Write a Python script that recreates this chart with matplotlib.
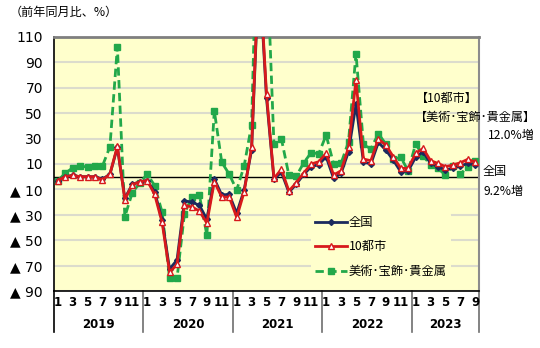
import numpy as np
import matplotlib
matplotlib.use('Agg')
import matplotlib.pyplot as plt
from matplotlib.lines import Line2D
import matplotlib.transforms as mtransforms

plt.rcParams['font.family'] = ['Noto Sans CJK JP', 'DejaVu Sans']

years = ['2019', '2020', '2021', '2022', '2023']
month_nums = list(range(1, 13)) * 4 + list(range(1, 10))

zenkoku = [-3, 0, 1, 0, 0, 0, -2, 2, 23, -17, -6, -4,
           -3, -12, -34, -72.7, -65.6, -19, -20, -22.5, -33.5, -1.8, -14.4, -13.9,
           -28.8, -10.5, 21, 165, 62, -2, 3.5, -12.3, -5.8, 1.9, 7.9, 9.5,
           15.7, -1.3, 2.6, 19.7, 57, 11.6, 10, 27, 21, 13.1, 3.9, 4.5,
           15.3, 19.7, 10.5, 7.9, 5.3, 6.6, 8.4, 10.5, 9.2]
toshi10 = [-3, 0, 1, 0, 0, 0, -2.6, 2, 24, -18, -6.3, -4,
           -3, -14, -36, -75.3, -69, -22.5, -23.8, -27, -36.5, -3.9, -16, -16,
           -32, -12, 23, 170, 65, -1.3, 5.8, -11.3, -4.7, 3, 10, 11.8,
           18.4, 1.3, 4.7, 23, 76, 13.9, 12.6, 29.7, 25, 15.7, 6.6, 6.6,
           18.4, 22.3, 12.6, 10.5, 7.9, 9.2, 11, 13.7, 11.5]
bijutsu = [-3, 2.6, 7, 8.7, 7.4, 8.5, 8.5, 23.6, 102.4, -31.5, -12.6, -5,
           2, -7, -28, -80, -80, -29, -16, -14.4, -46, 52, 11.3, 2,
           -10.5, 8.4, 41, 260, 180, 25.5, 29.7, 1.3, 0.5, 11, 19, 18,
           32.8, 10, 10.5, 27.6, 97, 25.5, 21.8, 34, 25.7, 13.7, 15.3, 4.7,
           25.7, 16.5, 9.2, 6.6, 1.3, 8.4, 2, 7.9, 12.0]

ytick_vals = [110, 90, 70, 50, 30, 10, -10, -30, -50, -70, -90]
ytick_labels = ['110', '90', '70', '50', '30', '10',
                '▲ 10', '▲ 30', '▲ 50', '▲ 70', '▲ 90']

W, H = 540, 348
fig = plt.figure(figsize=(W / 100, H / 100), dpi=100)
L, R, T, B = 54, 479, 37, 291
ax = fig.add_axes([L / W, 1 - B / H, (R - L) / W, (B - T) / H])
ax.set_facecolor('#FFFFCC')

x = np.arange(len(month_nums))
ax.set_xlim(-0.5, len(month_nums) - 0.5)
ax.set_ylim(-90, 110)

for v in ytick_vals[1:]:
    ax.axhline(v, color='#DCDCCC', lw=1.5, zorder=1)
ax.axhline(0, color='black', lw=1.0, zorder=2)

navy = '#1B2A5E'
red = '#D7191C'
green = '#22A84A'
ax.plot(x, bijutsu, color=green, lw=2, ls=(0, (3, 1.6)), marker='s', ms=4.5,
        mfc=green, mec=green, zorder=3, label='美術･宝飾･貴金属')
ax.plot(x, zenkoku, color=navy, lw=2, marker='D', ms=3, mfc=navy, mec=navy,
        zorder=4, label='全国')
ax.plot(x, toshi10, color=red, lw=2, marker='^', ms=4.5, mfc='white', mec=red,
        mew=1, zorder=5, label='10都市')

ax.set_yticks(ytick_vals)
ax.set_yticklabels(ytick_labels, fontsize=10, family=['DejaVu Sans'])
ax.tick_params(axis='y', length=0, pad=8)
ax.set_xticks([])

for s in ['left', 'bottom']:
    ax.spines[s].set_color('black')
    ax.spines[s].set_linewidth(1.2)
ax.spines['top'].set_color('#7F7F7F')
ax.spines['top'].set_linewidth(2)
ax.spines['right'].set_color('#8C8C8C')
ax.spines['right'].set_linewidth(1.5)

trans = mtransforms.blended_transform_factory(ax.transData, ax.transAxes)
mfont = ['Liberation Sans Narrow', 'DejaVu Sans']
for i, m in enumerate(month_nums):
    if m % 2 == 1:
        ax.text(i, (B - 303) / (B - T), str(m), transform=trans, ha='center',
                va='center', fontsize=8.5, fontweight='bold', family=mfont)
starts = [0]
for i in range(1, len(month_nums)):
    if month_nums[i] == 1:
        starts.append(i)
bounds = starts + [len(month_nums)]
for k, yr in enumerate(years):
    cx = (bounds[k] + bounds[k + 1] - 1) / 2
    ax.text(cx, (B - 325) / (B - T), yr, transform=trans, ha='center',
            va='center', fontsize=8.5, fontweight='bold', family=mfont)
for k, b in enumerate(bounds):
    col = 'black' if k == 0 else '#6E6E6E'
    ax.add_line(Line2D([b - 0.5, b - 0.5], [0, (B - 332) / (B - T)],
                       transform=trans, color=col, lw=1.2, clip_on=False))

handles, labels = ax.get_legend_handles_labels()
order = [1, 2, 0]
leg = ax.legend([handles[i] for i in order], [labels[i] for i in order],
                loc='upper left', bbox_to_anchor=(305 / W, 1 - 206 / H),
                bbox_transform=fig.transFigure, frameon=True,
                facecolor='#FFFFCC', edgecolor='none', framealpha=1,
                fontsize=8.8, handlelength=2.6, handletextpad=0.2,
                labelspacing=0.95, borderpad=0.3, numpoints=1)
leg.set_zorder(6)

fs = 8.7
fig.text(10 / W, 1 - 12 / H, '（前年同月比、%）', fontsize=fs, va='center', ha='left')
fig.text(416 / W, 1 - 98 / H, '【10都市】', fontsize=fs, va='center', ha='left')
fig.text(415 / W, 1 - 117 / H, '【美術･宝飾･貴金属】', fontsize=fs, va='center', ha='left')
fig.text(488 / W, 1 - 135 / H, '12.0%増', fontsize=fs, va='center', ha='left')
fig.text(483 / W, 1 - 172 / H, '全国', fontsize=fs, va='center', ha='left')
fig.text(483 / W, 1 - 191 / H, '9.2%増', fontsize=fs, va='center', ha='left')

fig.savefig('out.png', dpi=100)
